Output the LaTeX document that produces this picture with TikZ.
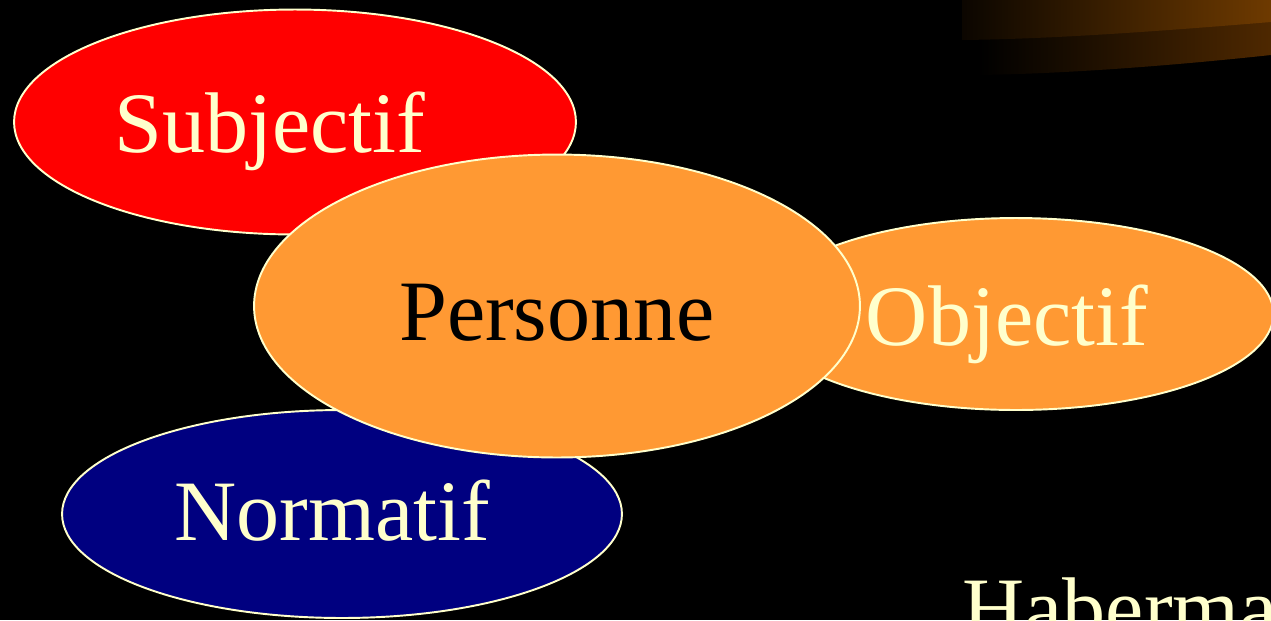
\documentclass[tikz,border=0pt]{standalone}
\usepackage{fontspec}
\setmainfont{Liberation Serif}
\usetikzlibrary{shapes.geometric}
\definecolor{txt}{RGB}{255,255,204}
\definecolor{orng}{RGB}{255,153,51}
\definecolor{navy}{RGB}{0,0,128}
\definecolor{brA}{RGB}{110,58,0}
\definecolor{brB}{RGB}{78,40,0}
\tikzset{
  blob/.style={ellipse, draw=txt, line width=1.1pt, inner sep=0pt},
  lbl/.style={anchor=base, inner sep=0pt, font=\fontsize{49}{58}\selectfont},
}
\begin{document}
\begin{tikzpicture}[x=0.02cm,y=-0.02cm]
\fill[black] (0,0) rectangle (1271,620);
\useasboundingbox (0,0) rectangle (1271,620);
% decorative gradient bands
\shade[left color=black, right color=brB] (978,20) -- (1271,20) -- (1271,55) .. controls (1150,68) and (1050,74) .. (978,75) -- cycle;
\shade[left color=black!90!brA, right color=brA] (962,0) -- (1271,0) -- (1271,22) .. controls (1150,32) and (1050,39) .. (962,40) -- cycle;
% ellipses
\node[blob, fill=red, minimum width=11.24cm, minimum height=4.5cm] (subj) at (295,122) {};
\node[blob, fill=navy, minimum width=11.2cm, minimum height=4.16cm] (norm) at (342,514) {};
\node[blob, fill=orng, minimum width=10.3cm, minimum height=3.84cm] (obj) at (1016,314) {};
\node[blob, fill=orng, minimum width=12.12cm, minimum height=6.06cm] (pers) at (557,306) {};
% labels
\node[lbl, text=txt] (tsubj) at (270,152) {Subjectif};
\node[lbl, text=black] (tpers) at (557,340) {Personne};
\node[lbl, text=txt] (tobj) at (1007,345) {Objectif};
\node[lbl, text=txt] (tnorm) at (332,540) {Normatif};
\node[lbl, text=txt, anchor=base west] (thab) at (962,637) {Habermas};
\end{tikzpicture}
\end{document}
